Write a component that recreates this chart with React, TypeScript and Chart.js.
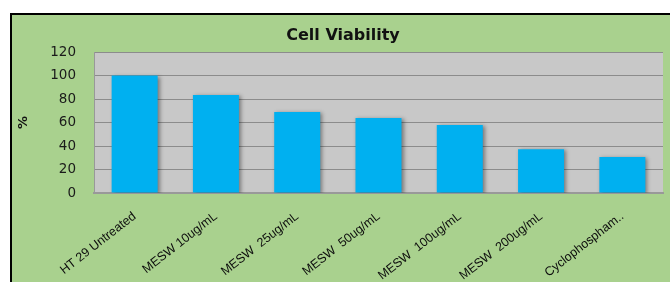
import React, { useEffect, useRef } from "react";
import { Chart, registerables } from "chart.js";

Chart.register(...registerables);

const categories = [
  "HT 29 Untreated",
  "MESW 10ug/mL",
  "MESW  25ug/mL",
  "MESW  50ug/mL",
  "MESW  100ug/mL",
  "MESW  200ug/mL",
  "Cyclophospham..",
];
const viability = [100, 83.4, 68.9, 63.8, 57.9, 37.2, 30.6];
const yTicks = [0, 20, 40, 60, 80, 100, 120];

const GREEN = "#a9d18e";
const PLOT_BG = "#c8c8c8";
const BAR = "#00b0f0";

const plotBg = {
  id: "plotBg",
  beforeDraw(chart: any) {
    const { ctx, chartArea } = chart;
    ctx.save();
    ctx.fillStyle = PLOT_BG;
    ctx.fillRect(chartArea.left, chartArea.top, chartArea.right - chartArea.left, chartArea.bottom - chartArea.top);
    ctx.restore();
  },
};

const barShadow = {
  id: "barShadow",
  beforeDatasetsDraw(chart: any) {
    const ctx = chart.ctx;
    ctx.save();
    ctx.shadowColor = "rgba(0,0,0,0.4)";
    ctx.shadowBlur = 4;
    ctx.shadowOffsetX = 2;
    ctx.shadowOffsetY = 1;
  },
  afterDatasetsDraw(chart: any) {
    chart.ctx.restore();
  },
};

export default function App() {
  const ref = useRef<HTMLCanvasElement | null>(null);

  useEffect(() => {
    document.body.style.margin = "0";
    const canvas = ref.current;
    if (!canvas) return;
    const chart = new Chart(canvas, {
      type: "bar",
      data: {
        labels: categories,
        datasets: [
          {
            data: viability,
            backgroundColor: BAR,
            borderWidth: 0,
            categoryPercentage: 1,
            barPercentage: 0.566,
          },
        ],
      },
      options: {
        responsive: false,
        animation: false,
        devicePixelRatio: 1,
        layout: { padding: { left: 11, right: 7, top: 0, bottom: 0 } },
        plugins: {
          legend: { display: false },
          tooltip: { enabled: false },
          title: {
            display: true,
            text: "Cell Viability",
            color: "#111",
            font: { family: "DejaVu Sans", size: 16, weight: "bold" },
            padding: { top: 11, bottom: 6.8 },
          },
        },
        scales: {
          x: {
            grid: { display: false, drawTicks: false },
            border: { display: true, color: "#999999", width: 2 },
            ticks: {
              color: "#0d0d0d",
              font: { family: "Liberation Sans", size: 12.5 },
              minRotation: 38,
              maxRotation: 38,
              autoSkip: false,
              padding: 16,
            },
            afterFit(scale: any) {
              scale.height = 89;
            },
          },
          y: {
            min: 0,
            max: 120,
            afterBuildTicks(scale: any) {
              scale.ticks = yTicks.map((v) => ({ value: v }));
            },
            grid: { color: "#8c8c8c", lineWidth: 1, drawTicks: false },
            border: { display: true, color: "#999999", width: 1 },
            ticks: {
              color: "#1a1a1a",
              font: { family: "DejaVu Sans", size: 13.5 },
              padding: 18,
            },
            title: {
              display: true,
              text: "%",
              color: "#111",
              font: { family: "DejaVu Sans", size: 13, weight: "bold" },
              padding: { top: -7, bottom: 0 },
            },
            afterFit(scale: any) {
              scale.width = 71;
            },
          },
        },
      },
      plugins: [plotBg, barShadow],
    });
    return () => chart.destroy();
  }, []);

  return (
    <div style={{ position: "absolute", left: 0, top: 0, width: 670, height: 282, background: "#ffffff", overflow: "hidden" }}>
      <div
        style={{
          position: "absolute",
          left: 10,
          top: 13,
          width: 660,
          height: 269,
          boxSizing: "border-box",
          borderTop: "2px solid #000",
          borderLeft: "2px solid #000",
          background: GREEN,
        }}
      >
        <canvas ref={ref} width={658} height={267} style={{ display: "block", width: 658, height: 267 }} />
      </div>
    </div>
  );
}
